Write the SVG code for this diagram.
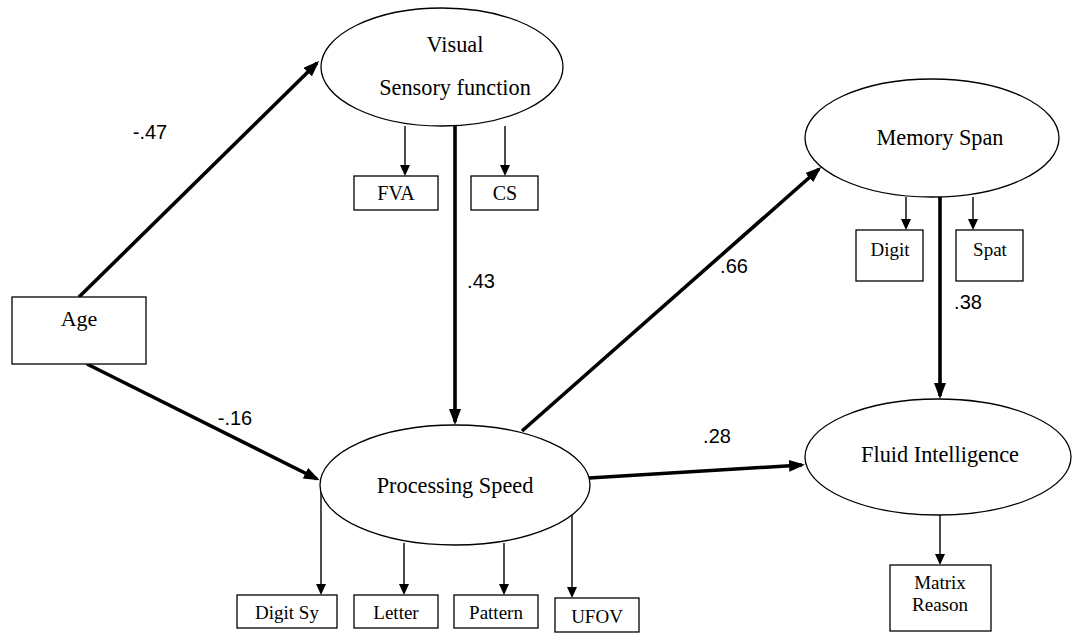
<svg xmlns="http://www.w3.org/2000/svg" width="1076" height="633" viewBox="0 0 1076 633">
<style>
.n{fill:#fff;stroke:#000;stroke-width:1.3}
.t{font-family:"Liberation Serif","Times New Roman",serif;fill:#000;text-anchor:middle}
.big{font-size:22.3px}
.sm{font-size:19px}
.lab{font-family:"Liberation Sans",Arial,sans-serif;font-size:20px;fill:#000;text-anchor:middle}
.thick{stroke:#000;stroke-width:3.6;fill:none;marker-end:url(#ah)}
.thin{stroke:#000;stroke-width:1.4;fill:none;marker-end:url(#as)}
</style>
<defs>
<marker id="ah" viewBox="0 0 16 12" markerUnits="userSpaceOnUse" markerWidth="16" markerHeight="12" refX="13" refY="6" orient="auto"><path d="M0,0 L16,6 L0,12 Z" fill="#000"/></marker>
<marker id="as" viewBox="0 0 11 10" markerUnits="userSpaceOnUse" markerWidth="11" markerHeight="10" refX="9" refY="5" orient="auto"><path d="M0,0 L11,5 L0,10 Z" fill="#000"/></marker>
</defs>
<rect width="1076" height="633" fill="#fff"/>
<g id="connectors">
<line class="thick" x1="79" y1="297" x2="317" y2="63"/>
<line class="thick" x1="87" y1="364" x2="317" y2="479"/>
<line class="thick" x1="455" y1="126" x2="455" y2="422"/>
<line class="thick" x1="522" y1="431" x2="819" y2="169"/>
<line class="thick" x1="589" y1="478" x2="802" y2="465"/>
<line class="thick" x1="940" y1="197" x2="940" y2="396"/>
<line class="thin" x1="405" y1="126" x2="405" y2="174"/>
<line class="thin" x1="505" y1="126" x2="505" y2="174"/>
<line class="thin" x1="906" y1="197" x2="906" y2="228"/>
<line class="thin" x1="973" y1="197" x2="973" y2="228"/>
<line class="thin" x1="321" y1="491" x2="321" y2="593"/>
<line class="thin" x1="404" y1="543" x2="404" y2="593"/>
<line class="thin" x1="504" y1="543" x2="504" y2="593"/>
<line class="thin" x1="572" y1="514" x2="572" y2="596"/>
<line class="thin" x1="940" y1="515" x2="940" y2="563"/>
<text class="lab" x="150" y="139">-.47</text>
<text class="lab" x="235" y="425">-.16</text>
<text class="lab" x="481" y="288">.43</text>
<text class="lab" x="734" y="273">.66</text>
<text class="lab" x="717" y="443">.28</text>
<text class="lab" x="968" y="309">.38</text>
</g>
<g id="age"><rect class="n" x="12" y="297" width="134" height="67"/><text class="t" x="79" y="326" style="font-size:22px">Age</text></g>
<g id="visual"><ellipse class="n" cx="442" cy="67" rx="121" ry="59"/><text class="t big" x="455" y="52">Visual</text><text class="t big" x="455" y="95">Sensory function</text></g>
<g id="fva"><rect class="n" x="354" y="176" width="84" height="34"/><text class="t sm" x="396" y="200" style="font-size:20px">FVA</text></g>
<g id="cs"><rect class="n" x="471" y="176" width="67" height="34"/><text class="t sm" x="505" y="200" style="font-size:20px">CS</text></g>
<g id="memory"><ellipse class="n" cx="932" cy="138" rx="127" ry="59"/><text class="t big" x="940" y="145">Memory Span</text></g>
<g id="digit"><rect class="n" x="856" y="230" width="67" height="51"/><text class="t sm" x="890" y="256">Digit</text></g>
<g id="spat"><rect class="n" x="956" y="230" width="67" height="51"/><text class="t sm" x="990" y="256">Spat</text></g>
<g id="processing"><ellipse class="n" cx="455" cy="485" rx="135" ry="60"/><text class="t big" x="455" y="493">Processing Speed</text></g>
<g id="digitsy"><rect class="n" x="237" y="595" width="100" height="33"/><text class="t sm" x="287" y="619">Digit Sy</text></g>
<g id="letter"><rect class="n" x="354" y="595" width="84" height="33"/><text class="t sm" x="396" y="619">Letter</text></g>
<g id="pattern"><rect class="n" x="454" y="595" width="84" height="33"/><text class="t sm" x="496" y="619">Pattern</text></g>
<g id="ufov"><rect class="n" x="555" y="598" width="84" height="34"/><text class="t sm" x="597" y="623">UFOV</text></g>
<g id="fluid"><ellipse class="n" cx="938" cy="457" rx="133" ry="58"/><text class="t big" x="940" y="462">Fluid Intelligence</text></g>
<g id="matrix"><rect class="n" x="890" y="565" width="101" height="66"/><text class="t sm" x="940" y="589">Matrix</text><text class="t sm" x="940" y="611">Reason</text></g>
</svg>
